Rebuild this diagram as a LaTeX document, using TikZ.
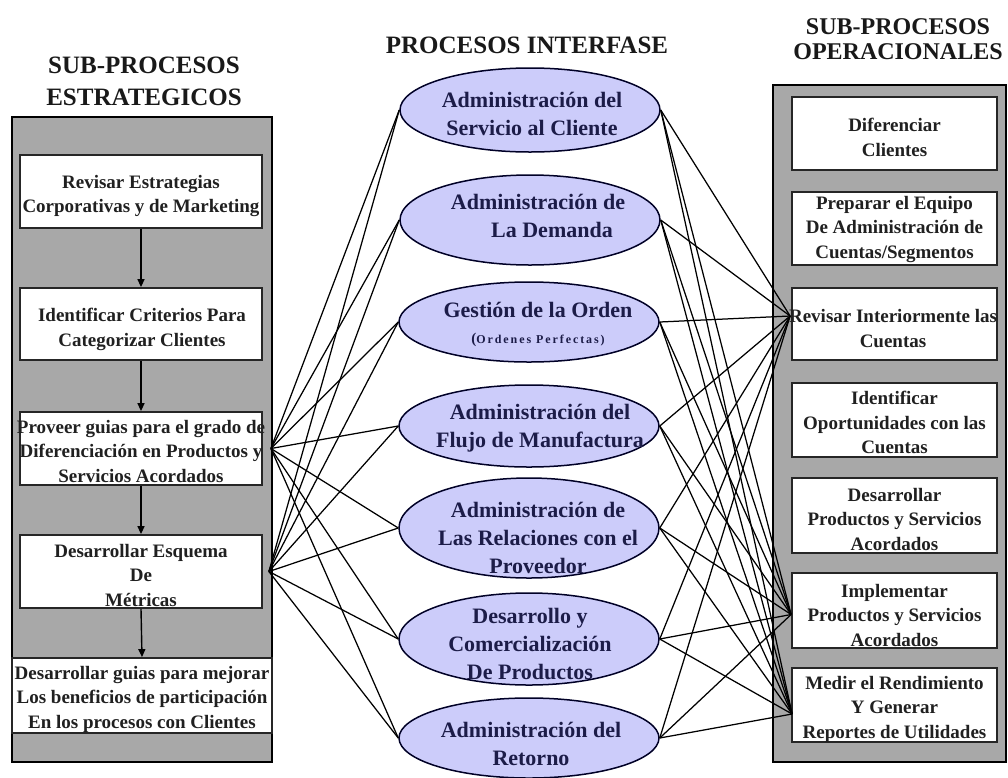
\documentclass[tikz,border=0pt]{standalone}
\usepackage{fontspec}
\setmainfont{Liberation Serif}
\usetikzlibrary{shapes.geometric,arrows.meta}
\definecolor{panelgray}{RGB}{168,168,168}
\definecolor{lavender}{RGB}{204,204,250}
\definecolor{navytext}{RGB}{28,28,72}
\definecolor{boxtext}{RGB}{32,32,32}

\begin{document}
\begin{tikzpicture}[x=1pt,y=-1pt,
  panel/.style={draw=black,line width=1.6pt,fill=panelgray,inner sep=0pt},
  stepbox/.style={draw=black!85,line width=1.8pt,fill=white,inner sep=0pt},
  boxlabel/.style={align=center,text=boxtext,font=\bfseries\fontsize{19}{24.5}\selectfont,inner sep=0pt},
  proc/.style={ellipse,draw=black!85!blue,line width=1.5pt,fill=lavender,minimum width=260pt,inner sep=0pt},
  proclabel/.style={align=center,text=navytext,font=\bfseries\fontsize{22}{28}\selectfont,inner sep=0pt},
  heading/.style={align=center,text=black!90,inner sep=0pt},
  flow/.style={line width=1.4pt,-{Triangle[length=8pt,width=7pt]}},
  link/.style={line width=1.25pt}
]
\useasboundingbox (0,0) rectangle (1008,777);

% column headings
\node[heading,font=\bfseries\fontsize{25}{32}\selectfont] (hl) at (144,81) {SUB-PROCESOS\\ESTRATEGICOS};
\node[heading,font=\bfseries\fontsize{25}{32}\selectfont] (hm) at (527,45) {PROCESOS INTERFASE};
\node[heading,font=\bfseries\fontsize{24}{24.5}\selectfont] (hr) at (898,39) {SUB-PROCESOS\\OPERACIONALES};

% strategic sub-processes
\node[panel,minimum width=260pt,minimum height=645pt] (lpanel) at (142,439.5) {};
\node[stepbox,minimum width=242pt,minimum height=73pt] (l1) at (141,191.5) {};
\node[stepbox,minimum width=242pt,minimum height=72pt] (l2) at (141,324) {};
\node[stepbox,minimum width=242pt,minimum height=73pt] (l3) at (141,448.5) {};
\node[stepbox,minimum width=242pt,minimum height=73pt] (l4) at (141,571.5) {};
\node[stepbox,minimum width=260pt,minimum height=75pt] (l5) at (142,695.5) {};
\node[boxlabel] (l1t) at (141,196) {Revisar Estrategias\\Corporativas y de Marketing};
\node[boxlabel] (l2t) at (142,329.5) {Identificar Criterios Para\\Categorizar Clientes};
\node[boxlabel] (l3t) at (141,451) {Proveer guias para el grado de\\Diferenciación en Productos y\\Servicios Acordados};
\node[boxlabel] (l4t) at (141,575) {Desarrollar Esquema\\De\\Métricas};
\node[boxlabel] (l5t) at (142,699) {Desarrollar guias para mejorar\\Los beneficios de participación\\En los procesos con Clientes};
\draw[flow] (l1.south) -- (l2.north);
\draw[flow] (l2.south) -- (l3.north);
\draw[flow] (l3.south) -- (l4.north);
\draw[flow] (l4.south) -- (l5.north);

% operational sub-processes
\node[panel,minimum width=233pt,minimum height=677pt] (rpanel) at (889.5,423.5) {};
\node[stepbox,minimum width=205pt,minimum height=73pt] (r1) at (894.5,133.5) {};
\node[stepbox,minimum width=205pt,minimum height=73pt] (r2) at (894.5,228.5) {};
\node[stepbox,minimum width=205pt,minimum height=72pt] (r3) at (894.5,324) {};
\node[stepbox,minimum width=205pt,minimum height=74pt] (r4) at (894.5,420) {};
\node[stepbox,minimum width=205pt,minimum height=75pt] (r5) at (894.5,515.5) {};
\node[stepbox,minimum width=205pt,minimum height=75pt] (r6) at (894.5,610.5) {};
\node[stepbox,minimum width=205pt,minimum height=74pt] (r7) at (894.5,705) {};
\node[boxlabel] (r1t) at (894.5,137.5) {Diferenciar\\Clientes};
\node[boxlabel] (r2t) at (894.5,229) {Preparar el Equipo\\De Administración de\\Cuentas/Segmentos};
\node[boxlabel] (r3t) at (893,328.5) {Revisar Interiormente las\\Cuentas};
\node[boxlabel] (r4t) at (894.5,422.5) {Identificar\\Oportunidades con las\\Cuentas};
\node[boxlabel] (r5t) at (894.5,519) {Desarrollar\\Productos y Servicios\\Acordados};
\node[boxlabel] (r6t) at (894.5,615) {Implementar\\Productos y Servicios\\Acordados};
\node[boxlabel] (r7t) at (894.5,709) {Medir el Rendimiento\\Y Generar\\Reportes de Utilidades};

% interface processes
\node[proc,minimum height=84pt] (e1) at (530,110) {};
\node[proc,minimum height=90pt] (e2) at (530,220) {};
\node[proc,minimum height=80pt] (e3) at (529,322) {};
\node[proc,minimum height=82pt] (e4) at (529,426) {};
\node[proc,minimum height=100pt] (e5) at (529,528) {};
\node[proc,minimum height=92pt] (e6) at (529,639) {};
\node[proc,minimum height=80pt] (e7) at (529,738) {};
\node[proclabel] (e1t) at (532,114) {Administración del\\Servicio al Cliente};
\node[proclabel] (e2t) at (538,216) {Administración de\\\hspace*{28pt}La Demanda};
\node[proclabel] (e3t) at (538,324) {Gestión de la Orden\\[-2pt]{\fontsize{15}{15}\selectfont(}{\addfontfeature{LetterSpace=16}\fontsize{12}{12}\selectfont Ordenes Perfectas)}};
\node[proclabel] (e4t) at (540,428.5) {Administración del\\Flujo de Manufactura};
\node[proclabel] (e5t) at (538,538) {Administración de\\Las Relaciones con el\\Proveedor};
\node[proclabel] (e6t) at (530,644) {Desarrollo y\\Comercialización\\De Productos};
\node[proclabel] (e7t) at (531,744) {Administración del\\Retorno};

% links between the three columns
\foreach \i in {1,...,7}{
  \draw[link] ([xshift=8pt]l3.east) -- (e\i.west);
  \draw[link] ([xshift=6pt]l4.east) -- (e\i.west);
  \draw[link] (e\i.east) -- ([xshift=-1pt,yshift=8pt]r3.west);
  \draw[link] (e\i.east) -- ([yshift=-4pt]r6.west);
  \draw[link] (e\i.east) -- ([xshift=1pt,yshift=-9pt]r7.west);
}
\end{tikzpicture}
\end{document}
